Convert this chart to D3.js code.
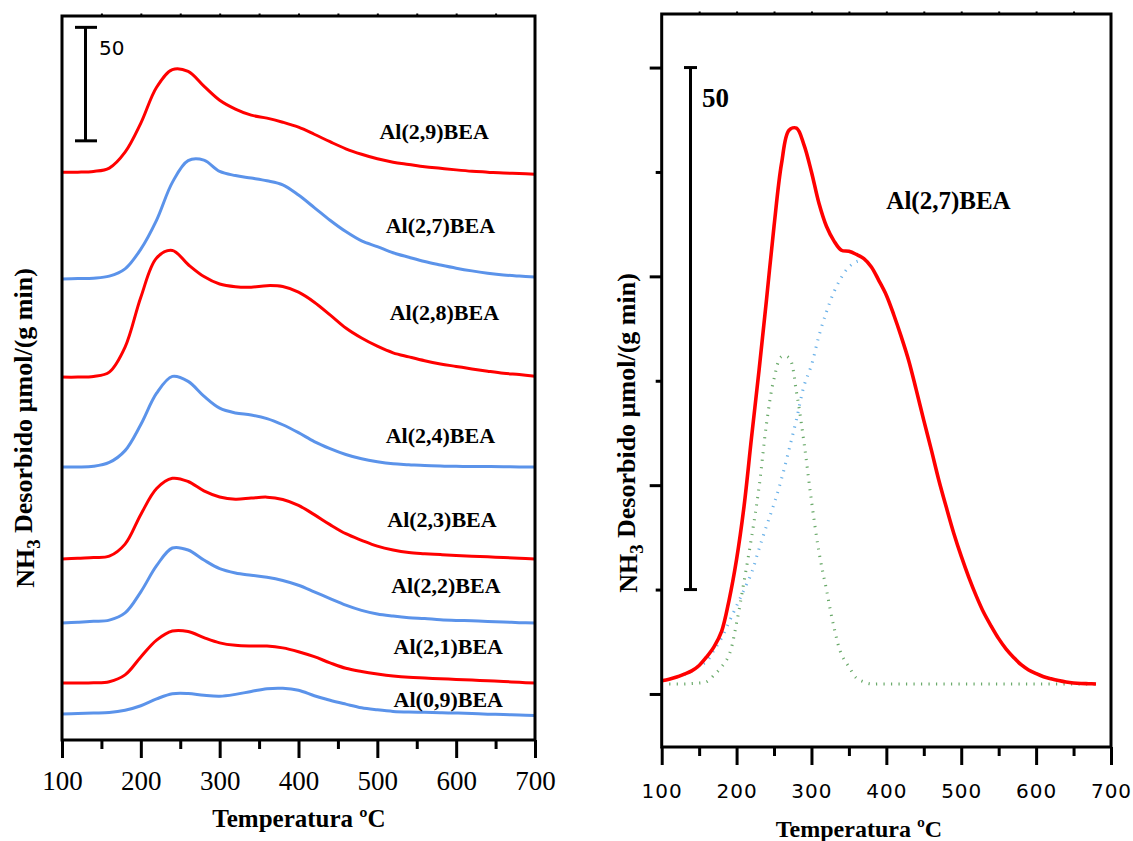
<!DOCTYPE html>
<html>
<head>
<meta charset="utf-8">
<script src="https://cdn.jsdelivr.net/npm/d3@7"></script>
<style>
  body { margin: 0; background: #fff; }
  svg { display: block; }
</style>
</head>
<body>
<svg id="chart" width="1133" height="841"></svg>
<script>
// ---------- data: NH3-TPD profiles ----------
const xTickValues = [100, 200, 300, 400, 500, 600, 700];
const xMinorValues = [150, 250, 350, 450, 550, 650];

// Stacked profiles (left): temperature grid (ºC)
const tempsStack = [100,120,140,160,180,200,220,240,260,280,300,320,340,360,380,400,
                    420,440,460,480,500,520,540,560,580,600,620,640,660,680,700];
const sampleNames = ["Al(2,9)BEA","Al(2,7)BEA","Al(2,8)BEA","Al(2,4)BEA",
                     "Al(2,3)BEA","Al(2,2)BEA","Al(2,1)BEA","Al(0,9)BEA"];
// vertical offset of each trace, in µmol/(g min)
const sampleOffsets = [250.2, 203.1, 159.9, 120.3, 79.7, 51.5, 25.1, 11.5];
// desorption rate above each baseline, µmol/(g min)
const al29 = [0,0,0.3,1.8,8.8,21.6,37.4,45.2,44.4,37.9,31.7,27.8,25.1,23.8,22.0,19.8,16.7,13.4,10.3,7.9,5.9,4.4,3.4,2.4,1.7,1.0,0.4,0,-0.4,-0.6,-0.9];
const al27 = [0,0.2,0.4,1.3,4.5,13.2,26.0,42.6,52.2,52.4,47.4,45.6,44.5,43.3,41.5,37.0,31.5,25.9,20.9,16.8,14.3,11.6,9.6,7.7,6.2,4.8,3.6,2.6,1.8,1.3,0.9];
const al28 = [0,0,0.3,2.2,13.2,35.2,52.5,55.8,49.6,44.3,41.0,39.8,39.6,40.3,39.9,37.4,33.0,27.4,21.6,17.2,13.6,10.7,8.9,7.2,5.8,4.7,3.6,2.6,1.7,1.1,0.4];
const al24 = [0,0,0.3,2.0,7.2,18.7,32.5,39.9,37.7,31.2,25.9,23.8,22.9,21.3,18.6,15.1,11.2,8.1,5.5,3.6,2.3,1.4,1.0,0.6,0.4,0.3,0.2,0.2,0.1,0,0];
const al23 = [0,0.4,0.7,1.3,6.6,19.7,31.1,35.6,34.2,30.1,27.4,26.4,26.9,27.3,26.3,23.7,19.6,15.2,11.2,8.3,5.7,4.0,2.9,2.4,2.0,1.6,1.3,1.0,0.7,0.4,0];
const al22 = [0,0.4,0.8,1.3,4.5,13.8,25.3,33.1,32.2,27.8,24.0,22.1,21.1,20.2,18.8,16.7,13.8,10.8,7.9,5.6,4.0,3.1,2.4,2.0,1.5,1.2,1.0,0.7,0.5,0.2,0];
const al21 = [0,0,0.1,0.6,3.6,11.5,18.9,22.9,22.7,20.0,17.7,16.6,16.3,16.3,15.5,13.8,11.6,8.9,6.5,5.1,4.0,3.1,2.5,2.2,1.9,1.6,1.3,1.0,0.7,0.3,0];
const al09 = [0,0.2,0.4,0.6,1.6,3.6,6.6,8.9,9.0,8.2,7.8,8.6,9.9,11.1,11.3,10.4,8.0,6.0,4.3,2.7,1.8,1.1,0.8,0.7,0.5,0.4,0.2,-0.1,-0.3,-0.5,-0.7];
const sampleSeries = [al29, al27, al28, al24, al23, al22, al21, al09];
const scaleBarStack = 50;

// Deconvoluted Al(2,7)BEA profile (right)
const tempsFit = [100,110,120,130,140,150,160,170,180,190,200,210,220,230,240,250,260,270,280,290,
                  300,310,320,330,340,350,360,370,380,390,400,410,420,430,440,450,460,470,480,490,
                  500,510,520,530,540,550,560,570,580,590,600,610,620,630,640,650,660,670,680];
const totalAl27 = [1.27,1.42,1.62,1.90,2.21,2.73,3.55,4.54,6.0,9.0,12.9,18.0,24.6,31.0,37.8,44.8,50.8,54.0,54.2,52.6,
                   50.0,47.0,44.8,43.4,42.5,42.4,42.1,41.7,40.9,39.6,38.2,36.3,34.2,31.9,29.1,26.2,23.4,20.5,17.9,15.4,
                   13.2,11.2,9.4,7.8,6.5,5.3,4.3,3.5,2.8,2.3,1.95,1.65,1.45,1.28,1.14,1.05,1.0,0.98,0.96];
const weakSites = [0.96,0.96,0.96,0.96,1.00,1.05,1.17,1.82,2.59,3.74,6.80,10.8,15.0,19.8,25.9,30.2,32.3,32.2,28.9,24.1,
                   18.5,13.6,10.0,6.4,3.8,2.6,1.53,1.15,0.96,0.96,0.96,0.96,0.96,0.96,0.96,0.96,0.96,0.96,0.96,0.96,
                   0.96,0.96,0.96,0.96,0.96,0.96,0.96,0.96,0.96,0.96,0.96,0.96,0.96,0.96,0.96,0.96,0.96,0.96,0.96];
const tempsStrong = [130,140,150,160,170,180,190,200,210,220,230,240,250,260,270,280,290,300,310,320,330,340,350,360,370];
const strongSites = [1.82,2.20,2.68,3.11,4.21,5.36,6.90,8.43,9.99,11.6,13.9,16.1,18.2,20.6,23.4,26.3,29.5,31.5,34.3,36.6,38.5,39.9,40.9,41.4,41.6];
const fitYTicks = [0, 20, 40, 60];
const fitYMinor = [10, 30, 50];
const scaleBarFit = 50;

// ---------- drawing ----------
const SERIF = "'Liberation Serif','Times New Roman',serif";
const SANS = "'DejaVu Sans',Verdana,sans-serif";
const RED = "#ff0000", BLUE = "#5b93ea";
const sampleColors = [RED, BLUE, RED, BLUE, RED, BLUE, RED, BLUE];
const smooth = d3.curveCatmullRom.alpha(0.5);

const svg = d3.select("#chart");
svg.append("rect").attr("width", 1133).attr("height", 841).attr("fill", "#fff");

function frameAndXAxis(g, x, top, bottom, labelStyle) {
  const left = x.range()[0], right = x.range()[1];
  // bottom axis: majors and minors, no domain line (frame draws it)
  const major = g.append("g").attr("transform", `translate(0,${bottom})`)
    .call(d3.axisBottom(x).tickValues(xTickValues).tickSize(18).tickFormat(d3.format("d")));
  major.select(".domain").remove();
  major.selectAll(".tick line").attr("stroke", "#000").attr("stroke-width", 3);
  major.selectAll(".tick text").attr("fill", "#000").attr("dy", 0)
    .attr("y", labelStyle.offset)
    .style("font-family", labelStyle.family).style("font-size", labelStyle.size + "px")
    .style("letter-spacing", labelStyle.spacing || "0px");
  const minor = g.append("g").attr("transform", `translate(0,${bottom})`)
    .call(d3.axisBottom(x).tickValues(xMinorValues).tickSize(9).tickFormat(""));
  minor.select(".domain").remove();
  minor.selectAll(".tick line").attr("stroke", "#000").attr("stroke-width", 3);
  // tiny ticks on the top edge every 50 ºC
  const topTicks = g.append("g").attr("transform", `translate(0,${top})`)
    .call(d3.axisTop(x).tickValues(xMinorValues.concat(xTickValues.slice(1, -1))).tickSize(2.5).tickFormat(""));
  topTicks.select(".domain").remove();
  topTicks.selectAll(".tick line").attr("stroke", "#000").attr("stroke-width", 2);
  // frame
  g.append("rect").attr("x", left).attr("y", top)
    .attr("width", right - left).attr("height", bottom - top)
    .attr("fill", "none").attr("stroke", "#000").attr("stroke-width", 3);
}

function yTitle(g, cx, cy, size) {
  const t = g.append("text")
    .attr("transform", `translate(${cx},${cy}) rotate(-90)`)
    .attr("text-anchor", "middle")
    .style("font-family", SERIF).style("font-weight", "bold").style("font-size", size + "px")
    .attr("fill", "#000");
  t.append("tspan").text("NH");
  t.append("tspan").text("3").attr("dy", "0.32em").style("font-size", (size * 0.72) + "px");
  t.append("tspan").text(" Desorbido µmol/(g min)").attr("dy", "-0.32em");
}

// ----- left: stacked profiles -----
const xL = d3.scaleLinear().domain([100, 700]).range([62, 535]);
const yL = d3.scaleLinear().domain([0, 319]).range([740, 16]);
const gL = svg.append("g");

const lineL = d3.line().x(d => xL(d[0])).y(d => yL(d[1])).curve(smooth);
sampleSeries.forEach((vals, i) => {
  const pts = tempsStack.map((t, j) => [t, sampleOffsets[i] + vals[j]]);
  gL.append("path").datum(pts).attr("d", lineL)
    .attr("fill", "none").attr("stroke", sampleColors[i])
    .attr("stroke-width", 3).attr("stroke-linejoin", "round");
});

// sample labels: [temperature, height] anchors
const stackLabelAt = [[572, 264.8], [580, 223.3], [585, 185.0], [580, 130.8],
                      [582, 93.8], [587, 64.8], [590, 37.9], [590, 14.5]];
sampleNames.forEach((name, i) => {
  gL.append("text").attr("x", xL(stackLabelAt[i][0])).attr("y", yL(stackLabelAt[i][1]))
    .attr("text-anchor", "middle")
    .style("font-family", SERIF).style("font-weight", "bold").style("font-size", "22px")
    .text(name);
});

// 50-unit scale bar
const barL = [264, 264 + scaleBarStack];
gL.append("line").attr("x1", 85.5).attr("x2", 85.5).attr("y1", yL(barL[0])).attr("y2", yL(barL[1]))
  .attr("stroke", "#000").attr("stroke-width", 3);
barL.forEach(v => gL.append("line").attr("x1", 75).attr("x2", 97).attr("y1", yL(v)).attr("y2", yL(v))
  .attr("stroke", "#000").attr("stroke-width", 3));
gL.append("text").attr("x", 99).attr("y", 55)
  .style("font-family", SANS).style("font-size", "20px").text(String(scaleBarStack));

frameAndXAxis(gL, xL, 16, 740, { offset: 50, family: SERIF, size: 27 });
gL.append("text").attr("x", 299).attr("y", 827).attr("text-anchor", "middle")
  .style("font-family", SERIF).style("font-weight", "bold").style("font-size", "25px")
  .text("Temperatura ºC");
yTitle(gL, 34, 428, 26);

// ----- right: deconvolution of Al(2,7)BEA -----
const xR = d3.scaleLinear().domain([100, 700]).range([661.7, 1111]);
const yR = d3.scaleLinear().domain([-5.08, 65.13]).range([747, 14]);
const gR = svg.append("g");
const lineR = d3.line().x(d => xR(d[0])).y(d => yR(d[1])).curve(smooth);

gR.append("path").datum(tempsFit.map((t, j) => [t, weakSites[j]])).attr("d", lineR)
  .attr("fill", "none").attr("stroke", "#4f9a4f").attr("stroke-opacity", 0.85)
  .attr("stroke-width", 3).attr("stroke-dasharray", "1.2 6.3");
gR.append("path").datum(tempsStrong.map((t, j) => [t, strongSites[j]])).attr("d", lineR)
  .attr("fill", "none").attr("stroke", "#5aa9e6").attr("stroke-opacity", 0.9)
  .attr("stroke-width", 3).attr("stroke-dasharray", "1.2 6.3");
gR.append("path").datum(tempsFit.map((t, j) => [t, totalAl27[j]])).attr("d", lineR)
  .attr("fill", "none").attr("stroke", RED).attr("stroke-width", 3.6)
  .attr("stroke-linejoin", "round");

// y ticks on the left edge
const yMaj = gR.append("g").attr("transform", "translate(661.7,0)")
  .call(d3.axisLeft(yR).tickValues(fitYTicks).tickSize(12).tickFormat(""));
yMaj.select(".domain").remove();
yMaj.selectAll(".tick line").attr("stroke", "#000").attr("stroke-width", 3);
const yMin = gR.append("g").attr("transform", "translate(661.7,0)")
  .call(d3.axisLeft(yR).tickValues(fitYMinor).tickSize(6).tickFormat(""));
yMin.select(".domain").remove();
yMin.selectAll(".tick line").attr("stroke", "#000").attr("stroke-width", 3);

// scale bar
const barR = [10, 10 + scaleBarFit];
gR.append("line").attr("x1", 690.5).attr("x2", 690.5).attr("y1", yR(barR[0])).attr("y2", yR(barR[1]))
  .attr("stroke", "#000").attr("stroke-width", 3);
barR.forEach(v => gR.append("line").attr("x1", 684).attr("x2", 697).attr("y1", yR(v)).attr("y2", yR(v))
  .attr("stroke", "#000").attr("stroke-width", 3));
gR.append("text").attr("x", 702).attr("y", 107)
  .style("font-family", SERIF).style("font-weight", "bold").style("font-size", "27px")
  .text(String(scaleBarFit));

gR.append("text").attr("x", 948.5).attr("y", 209).attr("text-anchor", "middle")
  .style("font-family", SERIF).style("font-weight", "bold").style("font-size", "25px")
  .text("Al(2,7)BEA");

frameAndXAxis(gR, xR, 14, 747, { offset: 51, family: SANS, size: 20, spacing: "1px" });
gR.append("text").attr("x", 859).attr("y", 837).attr("text-anchor", "middle")
  .style("font-family", SERIF).style("font-weight", "bold").style("font-size", "24px")
  .text("Temperatura ºC");
yTitle(gR, 637, 433, 26);
</script>
</body>
</html>
